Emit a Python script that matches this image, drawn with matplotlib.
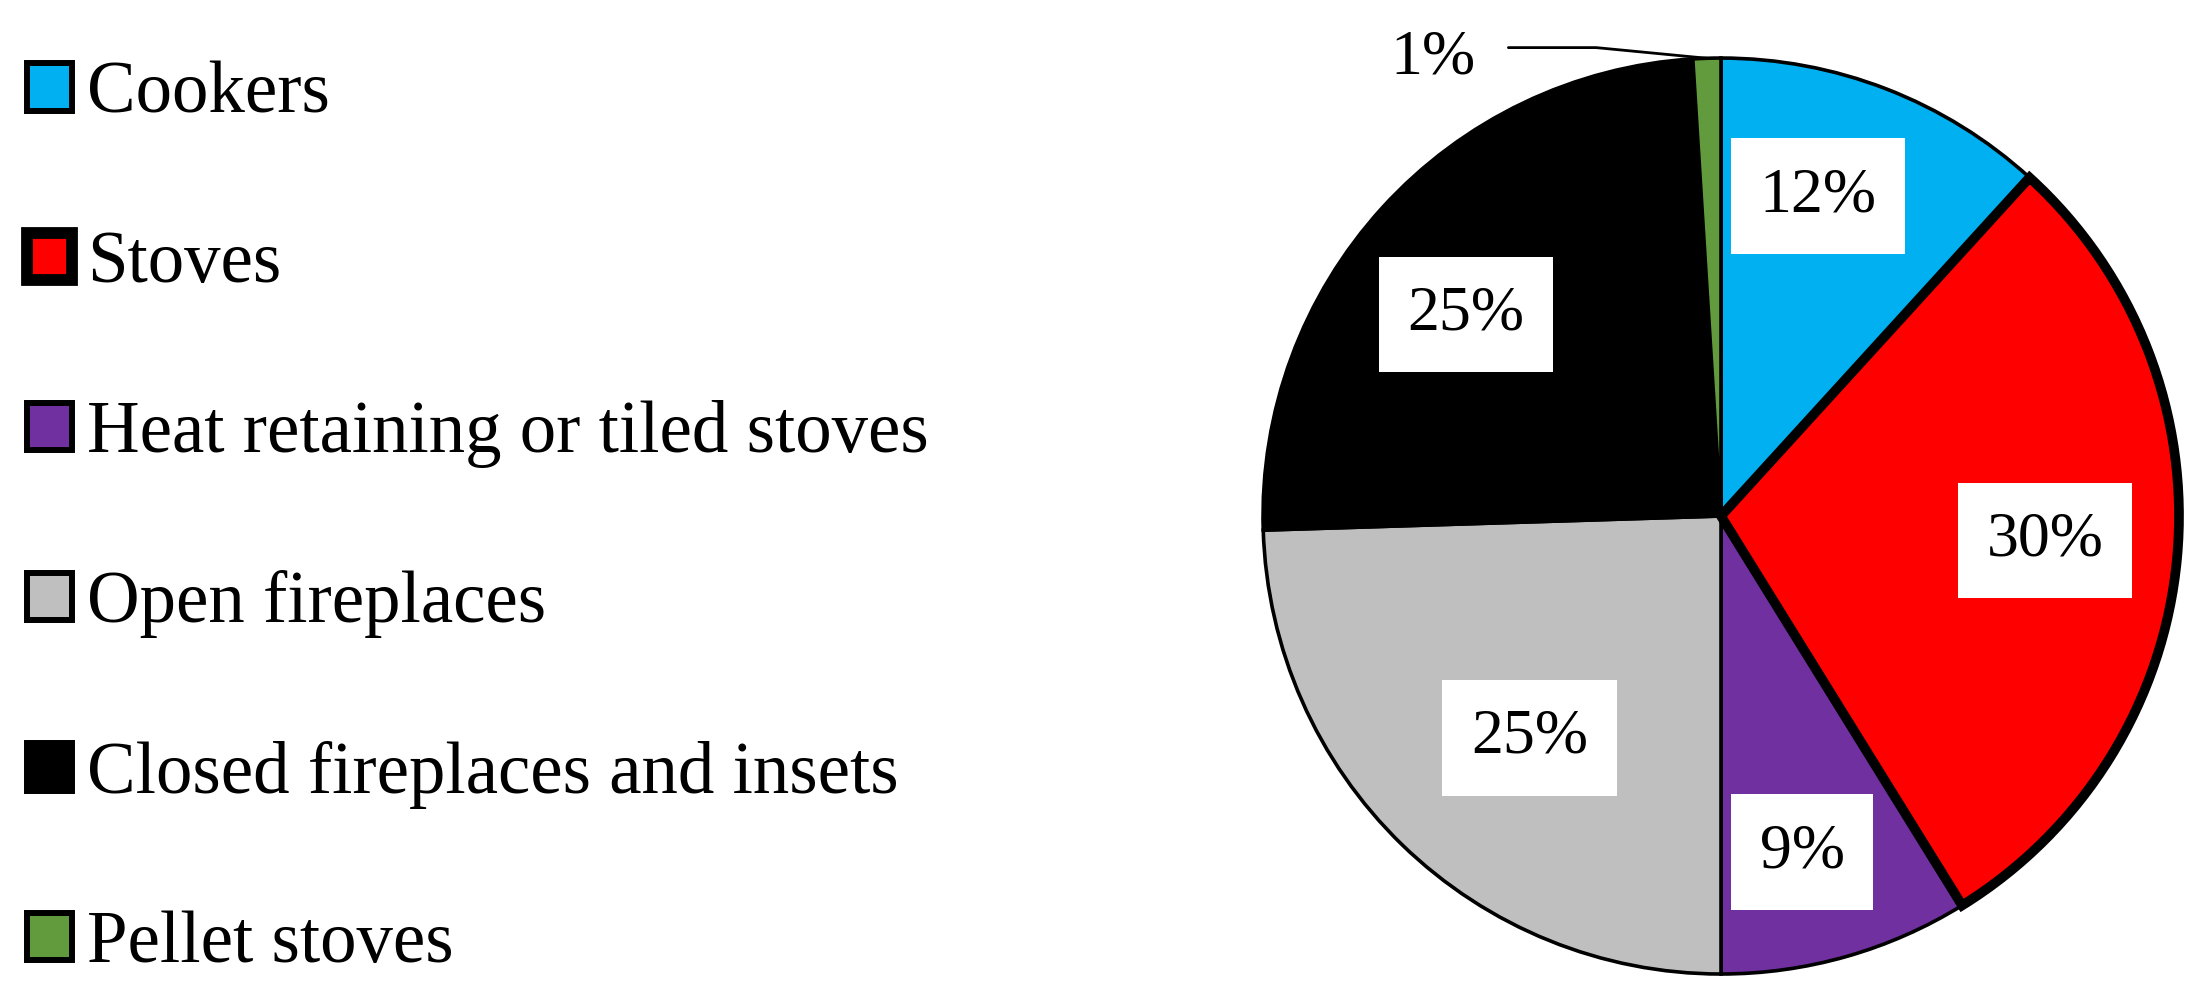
import numpy as np
import matplotlib.pyplot as plt
from matplotlib.patches import Patch

plt.rcParams['font.family'] = ['Liberation Serif', 'DejaVu Serif']

# data
categories = ['Cookers', 'Stoves', 'Heat retaining or tiled stoves',
              'Open fireplaces', 'Closed fireplaces and insets', 'Pellet stoves']
shares = [12, 30, 9, 25, 25, 1]
colors = ['#00B0F0', '#FF0000', '#7030A0', '#BFBFBF', '#000000', '#629A3E']
edge_widths = [2.6, 7.0, 2.6, 2.6, 2.6, 2.6]
# where each label box sits (radius, angle nudge in degrees)
label_radius = [0.73, 0.71, 0.755, 0.64, 0.71, None]
label_nudge = [4.3, 1.0, -2.3, 3.3, 4.0, 0]

fig = plt.figure(figsize=(22.05, 10.02), dpi=100)
ax = fig.add_axes([0.5728, 0.0279, 0.4154, 0.9142])

wedges, _ = ax.pie(shares, colors=colors, startangle=90, counterclock=False,
                   radius=1.0, wedgeprops=dict(edgecolor='black', linewidth=2.6))
for w, lw in zip(wedges, edge_widths):
    w.set_linewidth(lw)
# thick edge of the Stoves slice goes on top
wedges[1].set_zorder(3)

ax.set_xlim(-1, 1)
ax.set_ylim(-1, 1)
ax.set_aspect('equal')
ax.axis('off')

# percentage labels in white boxes
for w, val, r, nd in zip(wedges, shares, label_radius, label_nudge):
    mid = np.radians((w.theta1 + w.theta2) / 2)
    if r is None:
        # small slice: outside label with a leader line
        ex, ey = np.cos(mid), np.sin(mid)
        ax.annotate(f'{val}%', xy=(ex, ey), xytext=(-0.63, 1.0),
                    fontsize=46, ha='center', va='center',
                    arrowprops=dict(arrowstyle='-', color='black', lw=2,
                                    relpos=(1.0, 0.68),
                                    connectionstyle='angle,angleA=0,angleB=-5.5,rad=0',
                                    shrinkA=22, shrinkB=0),
                    annotation_clip=False)
        continue
    a = mid + np.radians(nd)
    ax.text(r * np.cos(a), r * np.sin(a), f'{val}%', fontsize=46,
            ha='center', va='center', zorder=5,
            bbox=dict(boxstyle='square,pad=0.45', fc='white', ec='none'))

handles = [Patch(facecolor=c, edgecolor='black', linewidth=lw)
           for c, lw in zip(colors, [4.3, 8.5, 4.3, 4.3, 4.3, 4.3])]
fig.legend(handles, categories, loc='upper left', bbox_to_anchor=(-0.001, 0.968),
           frameon=False, fontsize=52.5, handlelength=0.62, handleheight=0.62,
           handletextpad=0.2, labelspacing=1.40, borderaxespad=0)

fig.savefig('out.png', dpi=100)
